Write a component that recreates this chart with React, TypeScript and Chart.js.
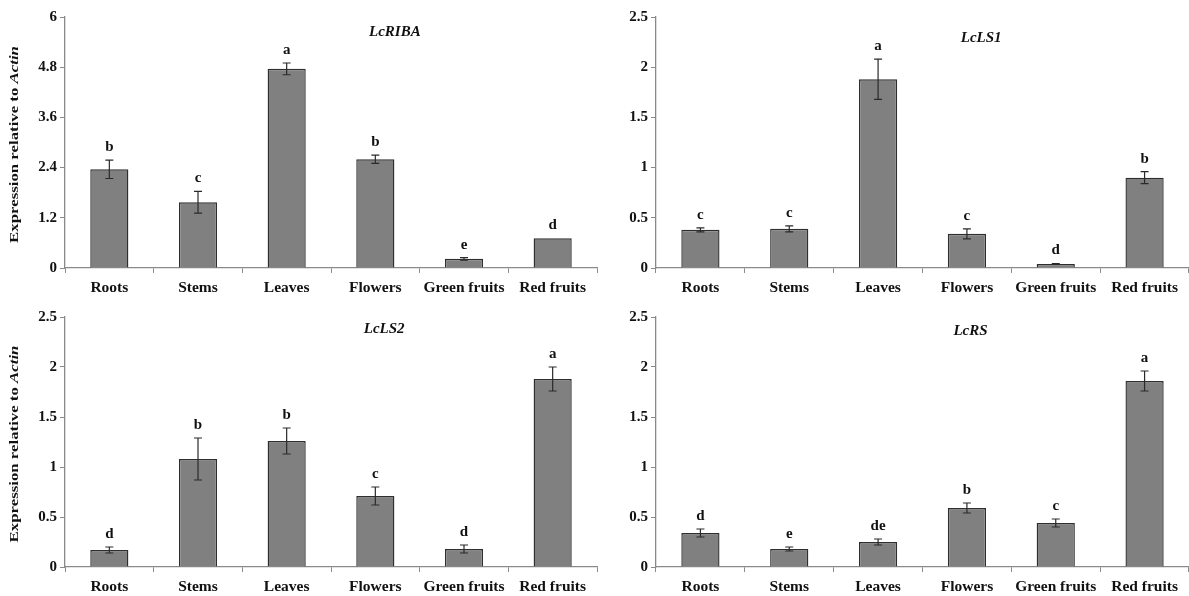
import React, { useEffect, useRef } from "react";
import { Chart, registerables } from "chart.js";

Chart.register(...registerables);

const categories = ["Roots", "Stems", "Leaves", "Flowers", "Green fruits", "Red fruits"];

const ribaValues = [2.36, 1.57, 4.76, 2.6, 0.22, 0.71];
const ribaErrors = [0.22, 0.26, 0.14, 0.1, 0.03, 0.0];
const ribaLetters = ["b", "c", "a", "b", "e", "d"];
const ribaTicks = [0, 1.2, 2.4, 3.6, 4.8, 6];

const ls1Values = [0.38, 0.39, 1.88, 0.34, 0.04, 0.9];
const ls1Errors = [0.02, 0.03, 0.2, 0.05, 0.005, 0.06];
const ls1Letters = ["c", "c", "a", "c", "d", "b"];

const ls2Values = [0.17, 1.08, 1.26, 0.71, 0.18, 1.88];
const ls2Errors = [0.03, 0.21, 0.13, 0.09, 0.04, 0.12];
const ls2Letters = ["d", "b", "b", "c", "d", "a"];

const rsValues = [0.34, 0.18, 0.25, 0.59, 0.44, 1.86];
const rsErrors = [0.04, 0.02, 0.03, 0.05, 0.04, 0.1];
const rsLetters = ["d", "e", "de", "b", "c", "a"];

const smallTicks = [0, 0.5, 1, 1.5, 2, 2.5];

const FONT = '"Liberation Serif", "Times New Roman", serif';

type PanelProps = {
  left: number;
  top: number;
  width: number;
  height: number;
  title: string;
  values: number[];
  errors: number[];
  letters: string[];
  ticks: number[];
  yWidth: number;
  xHeight: number;
  padTop: number;
  padRight: number;
  titleX: number;
  titleDy: number;
  showYTitle: boolean;
};

function Panel(p: PanelProps) {
  const ref = useRef<HTMLCanvasElement | null>(null);
  useEffect(() => {
    if (!ref.current) return;
    const overlay = {
      id: "overlay",
      afterDatasetsDraw(chart: any) {
        const ctx = chart.ctx;
        const xs = chart.scales.x;
        const ys = chart.scales.y;
        ctx.save();
        p.values.forEach((v, i) => {
          const e = p.errors[i];
          const x = xs.getPixelForValue(i);
          const yt = ys.getPixelForValue(v + e);
          const yb = ys.getPixelForValue(v - e);
          if (e > 0) {
            ctx.strokeStyle = "#2a2a2a";
            ctx.lineWidth = 1.2;
            ctx.beginPath();
            ctx.moveTo(x, yt);
            ctx.lineTo(x, yb);
            ctx.moveTo(x - 4, yt);
            ctx.lineTo(x + 4, yt);
            ctx.moveTo(x - 4, yb);
            ctx.lineTo(x + 4, yb);
            ctx.stroke();
          }
          ctx.fillStyle = "#111";
          ctx.font = `bold 15px ${FONT}`;
          ctx.textAlign = "center";
          ctx.textBaseline = "alphabetic";
          ctx.fillText(p.letters[i], x, yt - 9);
        });
        ctx.restore();
      },
      afterDraw(chart: any) {
        const ctx = chart.ctx;
        const a = chart.chartArea;
        ctx.save();
        ctx.fillStyle = "#111";
        ctx.font = `italic bold 15px ${FONT}`;
        ctx.textAlign = "center";
        ctx.textBaseline = "middle";
        ctx.fillText(p.title, a.left + p.titleX * (a.right - a.left), a.top + p.titleDy);
        if (p.showYTitle) {
          const cy = (a.top + a.bottom) / 2 + 2;
          ctx.translate(15, cy);
          ctx.rotate(-Math.PI / 2);
          ctx.scale(1.4, 1);
          const f1 = `bold 12px ${FONT}`;
          const f2 = `italic bold 12px ${FONT}`;
          const t1 = "Expression relative to ";
          const t2 = "Actin";
          ctx.font = f1;
          const w1 = ctx.measureText(t1).width;
          ctx.font = f2;
          const w2 = ctx.measureText(t2).width;
          const start = -(w1 + w2) / 2;
          ctx.textAlign = "left";
          ctx.font = f1;
          ctx.fillText(t1, start, 0);
          ctx.font = f2;
          ctx.fillText(t2, start + w1, 0);
        }
        ctx.restore();
      },
    };
    const chart = new Chart(ref.current, {
      type: "bar",
      data: {
        labels: categories,
        datasets: [
          {
            data: p.values,
            backgroundColor: "#808080",
            borderColor: "#2e2e2e",
            borderWidth: 1.4,
            barPercentage: 0.43,
            categoryPercentage: 1,
          },
        ],
      },
      options: {
        animation: false,
        responsive: false,
        maintainAspectRatio: false,
        layout: { padding: { top: p.padTop, right: p.padRight, left: 0, bottom: 0 } },
        plugins: { legend: { display: false }, tooltip: { enabled: false }, title: { display: false } },
        scales: {
          x: {
            offset: true,
            grid: {
              offset: true,
              drawOnChartArea: false,
              drawTicks: true,
              tickLength: 5,
              color: "#8a8a8a",
            },
            border: { display: true, color: "#8a8a8a", width: 1.3 },
            ticks: {
              color: "#111",
              font: { family: FONT, size: 15.5, weight: "bold" },
              padding: 6,
              maxRotation: 0,
              autoSkip: false,
            },
            afterFit: (s: any) => {
              s.height = p.xHeight;
            },
          },
          y: {
            min: p.ticks[0],
            max: p.ticks[p.ticks.length - 1],
            afterBuildTicks: (s: any) => {
              s.ticks = p.ticks.map((v) => ({ value: v }));
            },
            grid: {
              drawOnChartArea: false,
              drawTicks: true,
              tickLength: 5,
              color: "#8a8a8a",
            },
            border: { display: true, color: "#8a8a8a", width: 1.3 },
            ticks: {
              color: "#111",
              font: { family: FONT, size: 15, weight: "bold" },
              padding: 3,
              callback: (v: any) => String(Math.round(Number(v) * 10) / 10),
            },
            afterFit: (s: any) => {
              s.width = p.yWidth;
            },
          },
        },
      },
      plugins: [overlay],
    } as any);
    return () => chart.destroy();
  }, []);
  return (
    <canvas
      ref={ref}
      width={p.width}
      height={p.height}
      style={{ position: "absolute", left: p.left, top: p.top, width: p.width, height: p.height }}
    />
  );
}

export default function App() {
  return (
    <div style={{ position: "absolute", left: 0, top: 0, width: 1189, height: 596, background: "#fff" }}>
      <Panel left={0} top={0} width={600} height={298} title="LcRIBA" values={ribaValues} errors={ribaErrors}
        letters={ribaLetters} ticks={ribaTicks} yWidth={65} xHeight={30} padTop={17} padRight={3}
        titleX={0.62} titleDy={15} showYTitle={true} />
      <Panel left={600} top={0} width={589} height={298} title="LcLS1" values={ls1Values} errors={ls1Errors}
        letters={ls1Letters} ticks={smallTicks} yWidth={56} xHeight={30} padTop={17} padRight={0}
        titleX={0.61} titleDy={21} showYTitle={false} />
      <Panel left={0} top={298} width={600} height={298} title="LcLS2" values={ls2Values} errors={ls2Errors}
        letters={ls2Letters} ticks={smallTicks} yWidth={65} xHeight={29} padTop={19} padRight={3}
        titleX={0.6} titleDy={12} showYTitle={true} />
      <Panel left={600} top={298} width={589} height={298} title="LcRS" values={rsValues} errors={rsErrors}
        letters={rsLetters} ticks={smallTicks} yWidth={56} xHeight={29} padTop={19} padRight={0}
        titleX={0.59} titleDy={14} showYTitle={false} />
    </div>
  );
}
